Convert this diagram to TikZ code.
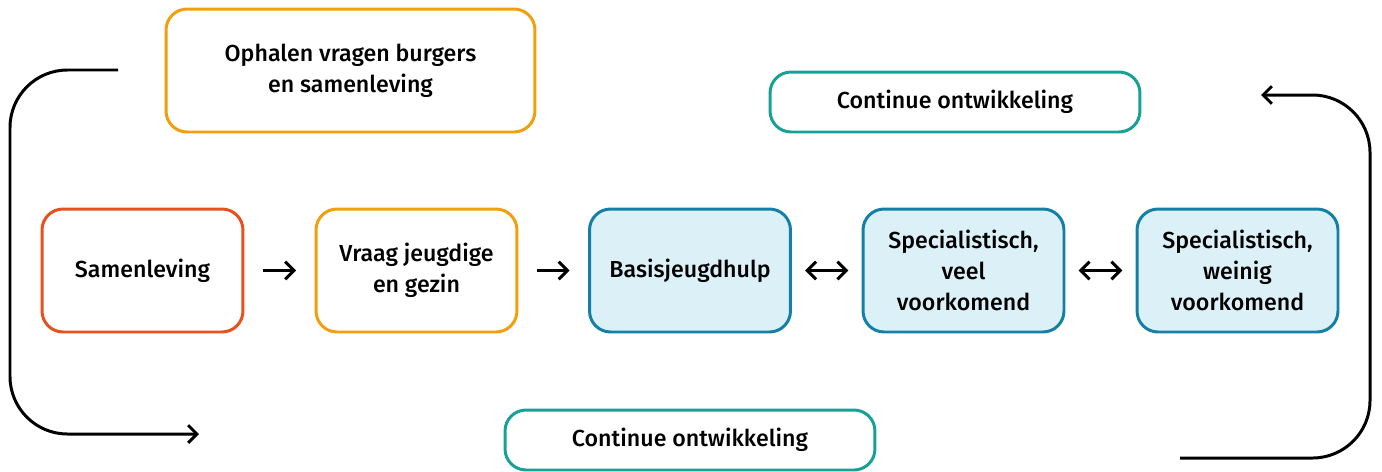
\documentclass[tikz,border=0pt]{standalone}
\usepackage{fontspec}
\setmainfont{Fira Sans Medium}
\usetikzlibrary{arrows.meta}
\definecolor{rood}{HTML}{E8501E}
\definecolor{oranje}{HTML}{F29E0D}
\definecolor{groen}{HTML}{17A196}
\definecolor{blauw}{HTML}{1580A6}
\definecolor{lichtblauw}{HTML}{DBF1F7}
\begin{document}
\begin{tikzpicture}[x=0.02cm,y=-0.02cm,
		box/.style={draw,line width=1.7pt,rounded corners=0.42cm,align=center,
			minimum width=4.02cm,minimum height=2.46cm,inner sep=0pt,
			font=\fontsize{13.2}{17.6}\selectfont},
		hulp/.style={box,draw=blauw,fill=lichtblauw},
		breed/.style={box,minimum width=7.4cm,minimum height=1.2cm},
		pijl/.style={line width=1.7pt,-{Straight Barb[length=5pt,width=10pt]}},
		dubbel/.style={pijl,{Straight Barb[length=5pt,width=10pt]}-{Straight Barb[length=5pt,width=10pt]},shorten <=7.5pt,shorten >=7.5pt},
		lus/.style={pijl,rounded corners=1.15cm}]
		\useasboundingbox (0,0) rectangle (1382,471);
		\node[box,draw=oranje,minimum width=7.38cm] (ophalen) at (350.5,70.5) {Ophalen vragen burgers\\en samenleving};
		\node[breed,draw=groen] (ontw1) at (955,102) {Continue ontwikkeling};
		\node[box,draw=rood] (samen) at (142.5,270.5) {Samenleving};
		\node[box,draw=oranje] (vraag) at (416.5,270.5) {Vraag jeugdige\\en gezin};
		\node[hulp] (basis) at (690,270.5) {Basisjeugdhulp};
		\node[hulp] (veel) at (963.5,270.5) {Specialistisch,\\veel\\voorkomend};
		\node[hulp] (weinig) at (1237.5,270.5) {Specialistisch,\\weinig\\voorkomend};
		\node[breed,draw=groen] (ontw2) at (690,440) {Continue ontwikkeling};
		\draw[pijl,shorten <=10.5pt,shorten >=10.5pt] (samen) -- (vraag);
		\draw[pijl,shorten <=10.5pt,shorten >=10.5pt] (vraag) -- (basis);
		\draw[dubbel] (basis) -- (veel);
		\draw[dubbel] (veel) -- (weinig);
		\coordinate (l1) at (118,70);
		\coordinate (l2) at (199,434);
		\coordinate (r1) at (1180,458);
		\coordinate (r2) at (1261,95);
		\draw[lus] (l1) -- (10,70) -- (10,434) -- (l2);
		\draw[lus] (r1) -- (1370,458) -- (1370,95) -- (r2);
	\end{tikzpicture}
\end{document}
